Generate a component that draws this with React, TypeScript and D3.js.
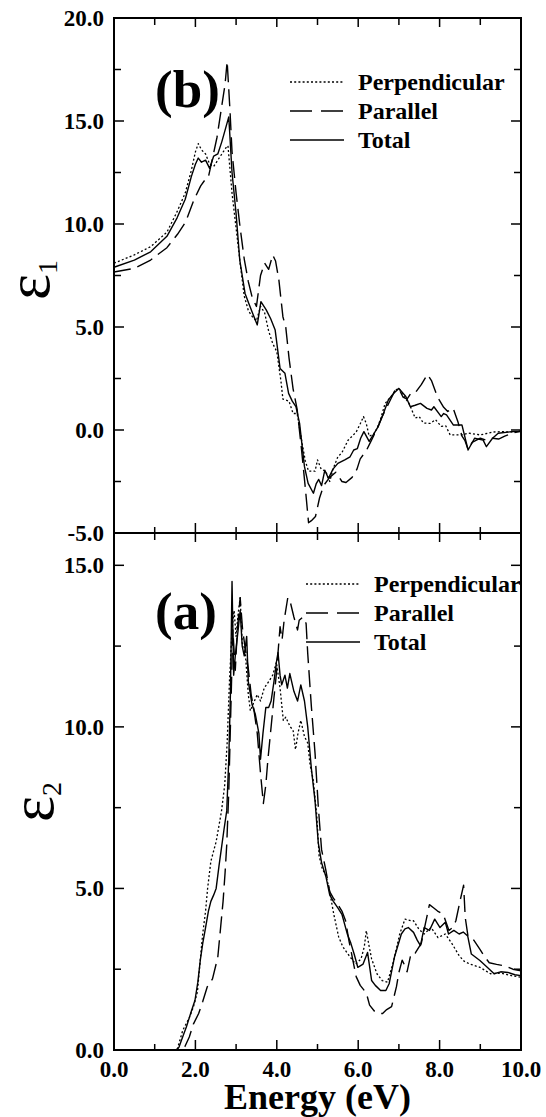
import { useEffect } from "react";
import * as d3 from "d3";

type Pt = [number, number];

// epsilon_1 (top panel b)
const e1Perp: Pt[] = [
  [0, 8.1], [0.5, 8.5], [0.9, 8.9], [1.3, 9.6], [1.55, 10.6], [1.75, 11.5], [1.9, 12.6], [2.0, 13.5], [2.07, 13.9],
  [2.15, 13.6], [2.25, 13.4], [2.35, 12.9], [2.45, 12.8], [2.55, 13.1], [2.65, 13.4], [2.75, 13.7], [2.8, 13.8],
  [2.9, 11.5], [3.0, 9.8], [3.1, 8.1], [3.2, 6.5], [3.3, 5.8], [3.4, 5.5], [3.5, 5.3], [3.6, 6.0], [3.7, 5.7],
  [3.8, 4.8], [3.9, 4.2], [4.0, 3.8], [4.1, 2.4], [4.15, 1.5], [4.3, 1.4], [4.4, 0.8], [4.5, 0.8], [4.6, -0.4],
  [4.7, -1.5], [4.78, -2.0], [4.88, -2.0], [4.94, -2.0], [5.0, -1.45], [5.09, -1.9], [5.2, -2.0], [5.3, -2.5],
  [5.38, -1.9], [5.5, -1.3], [5.6, -1.1], [5.75, -0.5], [5.85, -0.3], [5.95, -0.1], [6.05, 0.3], [6.13, 0.65],
  [6.2, 0.3], [6.27, -0.3], [6.38, -0.2], [6.47, 0.1], [6.56, 0.6], [6.66, 1.29], [6.8, 1.6], [6.92, 1.94],
  [7.0, 2.02], [7.1, 1.7], [7.25, 1.29], [7.4, 0.58], [7.5, 0.65], [7.6, 0.34], [7.77, 0.32], [7.9, 0.5],
  [8.04, 0.18], [8.15, 0.2], [8.26, -0.24], [8.55, -0.24], [8.7, -0.15], [9.0, -0.24], [9.3, -0.1], [9.5, -0.08],
  [9.8, -0.1], [10, -0.05],
];
const e1Para: Pt[] = [
  [0, 7.67], [0.5, 7.85], [0.9, 8.25], [1.3, 8.85], [1.56, 9.5], [1.76, 10.1], [1.97, 11.2], [2.13, 11.85],
  [2.22, 12.1], [2.31, 12.2], [2.4, 13.0], [2.53, 14.2], [2.63, 15.5], [2.73, 16.8], [2.78, 17.9], [2.85, 15.5],
  [2.9, 13.5], [3.0, 11.5], [3.1, 9.8], [3.2, 8.3], [3.3, 7.2], [3.4, 6.4], [3.5, 6.0], [3.6, 7.5], [3.7, 8.1],
  [3.8, 7.8], [3.9, 8.5], [3.97, 8.2], [4.05, 7.3], [4.15, 5.5], [4.22, 5.0], [4.3, 3.5], [4.4, 2.0], [4.5, 1.0],
  [4.6, -0.8], [4.7, -2.8], [4.78, -4.5], [4.85, -4.4], [4.95, -4.2], [5.05, -3.3], [5.15, -2.7], [5.3, -2.3],
  [5.45, -2.05], [5.6, -2.5], [5.7, -2.55], [5.85, -2.3], [5.97, -1.9], [6.05, -1.4], [6.2, -1.0], [6.3, -0.6],
  [6.45, 0.0], [6.6, 0.7], [6.75, 1.3], [6.9, 1.9], [7.0, 2.0], [7.1, 1.6], [7.2, 1.5], [7.3, 1.8], [7.4, 1.8],
  [7.55, 2.2], [7.7, 2.7], [7.8, 2.4], [7.95, 1.6], [8.1, 1.1], [8.2, 0.9], [8.33, 1.07], [8.45, 0.4],
  [8.55, -0.3], [8.62, -0.5], [8.7, -0.95], [8.8, -0.6], [9.0, -0.4], [9.15, -0.5], [9.3, -0.4], [9.45, -0.44],
  [9.6, -0.3], [9.8, -0.15], [10, -0.05],
];
const e1Total: Pt[] = [
  [0, 7.9], [0.5, 8.25], [0.9, 8.65], [1.3, 9.4], [1.55, 10.3], [1.75, 11.2], [1.9, 12.3], [2.0, 12.9], [2.07, 13.2],
  [2.15, 13.0], [2.25, 13.1], [2.35, 12.7], [2.45, 13.3], [2.55, 13.4], [2.65, 14.0], [2.75, 14.7], [2.82, 15.2],
  [2.9, 12.5], [3.0, 10.5], [3.09, 8.25], [3.22, 6.63], [3.31, 6.15], [3.42, 5.6], [3.52, 5.1], [3.61, 6.23],
  [3.74, 5.83], [3.85, 5.4], [3.96, 4.85], [4.08, 2.99], [4.2, 2.75], [4.29, 1.78], [4.38, 1.4], [4.47, 1.13],
  [4.56, 0.32], [4.68, -1.78], [4.77, -2.59], [4.9, -3.07], [4.97, -2.6], [5.03, -2.4], [5.1, -2.7], [5.18, -1.95],
  [5.27, -2.35], [5.38, -1.9], [5.5, -1.62], [5.67, -1.45], [5.8, -1.3], [5.89, -0.97], [5.98, -0.9],
  [6.06, -0.4], [6.14, -0.08], [6.27, -0.55], [6.38, -0.2], [6.49, 0.16], [6.62, 0.8], [6.74, 1.46], [6.88, 1.8],
  [7.0, 2.02], [7.17, 1.63], [7.28, 1.13], [7.4, 1.2], [7.53, 1.29], [7.69, 1.05], [7.8, 0.97], [7.86, 1.13],
  [8.04, 0.65], [8.1, 0.8], [8.17, 0.73], [8.34, 0.24], [8.55, 0.24], [8.7, -0.97], [8.86, -0.4], [9.07, -0.49],
  [9.15, -0.81], [9.3, -0.4], [9.44, -0.16], [9.77, -0.08], [10, -0.08],
];

// epsilon_2 (bottom panel a)
const e2Perp: Pt[] = [
  [0, 0], [1.5, 0], [1.56, 0.05], [1.69, 0.61], [1.85, 1.0], [1.95, 1.33], [2.05, 1.8], [2.12, 2.8], [2.18, 3.6],
  [2.25, 4.3], [2.3, 5.0], [2.38, 5.84], [2.51, 6.45], [2.64, 7.38], [2.72, 8.2], [2.78, 9.5], [2.84, 11.5],
  [2.9, 13.0], [2.95, 13.6], [3.0, 12.8], [3.05, 13.5], [3.1, 14.0], [3.15, 12.6], [3.22, 12.4], [3.3, 11.0],
  [3.35, 10.5], [3.45, 10.8], [3.52, 11.0], [3.6, 10.8], [3.69, 11.2], [3.8, 11.4], [3.9, 11.6], [3.99, 12.0],
  [4.08, 11.2], [4.16, 10.2], [4.22, 10.3], [4.33, 10.0], [4.4, 9.9], [4.46, 9.3], [4.52, 9.8], [4.59, 10.2],
  [4.68, 9.7], [4.76, 9.5], [4.82, 8.8], [4.89, 8.4], [4.98, 7.3], [5.04, 6.0], [5.12, 5.6], [5.21, 5.4],
  [5.3, 4.9], [5.4, 4.2], [5.52, 3.5], [5.62, 3.2], [5.73, 3.0], [5.85, 2.8], [5.94, 2.66], [6.07, 2.82],
  [6.15, 3.2], [6.2, 3.69], [6.27, 3.2], [6.33, 2.82], [6.46, 2.36], [6.59, 2.15], [6.72, 2.1], [6.85, 2.66],
  [6.95, 3.2], [7.02, 3.59], [7.15, 4.05], [7.3, 4.0], [7.36, 4.0], [7.49, 3.74], [7.62, 3.59], [7.79, 3.79],
  [7.96, 3.48], [8.14, 3.59], [8.31, 3.28], [8.48, 2.92], [8.6, 2.75], [8.74, 2.66], [8.99, 2.56], [9.25, 2.36],
  [9.51, 2.38], [9.77, 2.3], [10, 2.25],
];
const e2Para: Pt[] = [
  [0, 0], [1.65, 0], [1.74, 0.1], [1.85, 0.4], [1.95, 0.8], [2.08, 1.13], [2.18, 1.5], [2.29, 1.95], [2.42, 2.2],
  [2.55, 2.87], [2.62, 3.8], [2.68, 4.6], [2.73, 5.5], [2.77, 6.35], [2.82, 8.0], [2.87, 10.5], [2.92, 13.0],
  [2.98, 11.75], [3.03, 13.0], [3.1, 14.0], [3.16, 13.0], [3.22, 12.47], [3.3, 11.8], [3.37, 11.0], [3.43, 10.6],
  [3.52, 9.8], [3.6, 8.56], [3.67, 7.63], [3.73, 8.2], [3.78, 8.97], [3.86, 10.0], [3.93, 10.9], [3.99, 11.65],
  [4.08, 13.1], [4.13, 12.7], [4.18, 13.3], [4.27, 14.0], [4.33, 13.87], [4.42, 13.4], [4.51, 13.0], [4.55, 13.3],
  [4.64, 13.4], [4.72, 13.2], [4.76, 12.27], [4.85, 10.62], [4.94, 9.18], [5.02, 7.52], [5.1, 6.2], [5.2, 5.6],
  [5.3, 4.9], [5.39, 4.7], [5.5, 4.5], [5.6, 4.3], [5.69, 4.0], [5.77, 3.4], [5.85, 2.9], [5.95, 2.27],
  [6.05, 2.0], [6.2, 1.76], [6.28, 1.39], [6.4, 1.2], [6.5, 1.13], [6.6, 1.13], [6.7, 1.25], [6.82, 1.34],
  [6.94, 1.96], [7.0, 2.4], [7.08, 2.78], [7.15, 2.6], [7.2, 2.42], [7.3, 3.0], [7.4, 3.0], [7.55, 3.3],
  [7.65, 3.9], [7.75, 4.5], [7.85, 4.4], [7.95, 4.3], [8.09, 4.2], [8.23, 3.7], [8.33, 3.8], [8.4, 4.0],
  [8.5, 4.6], [8.59, 5.1], [8.63, 4.1], [8.7, 3.5], [8.84, 3.4], [9.0, 3.1], [9.1, 2.9], [9.22, 2.7],
  [9.4, 2.65], [9.62, 2.6], [9.8, 2.5], [10, 2.45],
];
const e2Total: Pt[] = [
  [0, 0], [1.55, 0], [1.6, 0.1], [1.7, 0.45], [1.78, 0.72], [1.9, 1.2], [1.99, 1.54], [2.06, 2.1], [2.12, 2.77],
  [2.18, 3.3], [2.25, 3.79], [2.32, 4.3], [2.38, 4.6], [2.45, 4.8], [2.51, 5.0], [2.58, 5.7], [2.64, 6.25],
  [2.7, 6.8], [2.77, 7.4], [2.82, 9.0], [2.86, 11.0], [2.9, 14.5], [2.94, 11.6], [2.98, 12.2], [3.05, 13.0],
  [3.1, 13.6], [3.15, 12.5], [3.2, 12.2], [3.26, 12.8], [3.3, 11.4], [3.39, 10.7], [3.47, 10.4], [3.56, 9.8],
  [3.6, 9.0], [3.66, 9.8], [3.73, 10.6], [3.8, 10.6], [3.86, 10.8], [3.93, 11.4], [3.99, 12.0], [4.03, 12.3],
  [4.08, 11.6], [4.12, 11.3], [4.2, 11.6], [4.26, 11.2], [4.32, 11.65], [4.42, 11.1], [4.51, 10.8], [4.59, 11.3],
  [4.68, 10.8], [4.76, 10.0], [4.85, 8.7], [4.94, 7.7], [5.02, 6.4], [5.1, 5.8], [5.21, 5.35], [5.3, 4.8],
  [5.39, 4.6], [5.5, 4.4], [5.6, 4.2], [5.73, 3.6], [5.82, 3.3], [5.9, 2.97], [5.99, 2.56], [6.12, 2.66],
  [6.23, 3.02], [6.33, 2.15], [6.42, 2.0], [6.55, 1.84], [6.68, 1.84], [6.76, 2.05], [6.89, 2.87], [7.06, 3.59],
  [7.15, 3.75], [7.23, 3.79], [7.36, 3.64], [7.45, 3.4], [7.53, 3.23], [7.62, 3.79], [7.75, 3.7], [7.88, 4.05],
  [8.01, 3.79], [8.14, 3.95], [8.22, 3.59], [8.35, 3.7], [8.48, 3.59], [8.58, 3.65], [8.69, 3.53], [8.78, 2.97],
  [8.99, 2.77], [9.17, 2.56], [9.34, 2.36], [9.5, 2.42], [9.68, 2.4], [9.85, 2.33], [10, 2.3],
];

const xMajor = [0, 2, 4, 6, 8, 10];
const xMinor = [1, 3, 5, 7, 9];
const e1Major = [-5, 0, 5, 10, 15, 20];
const e1Minor = [-2.5, 2.5, 7.5, 12.5, 17.5];
const e2Major = [0, 5, 10, 15];
const e2Minor = [2.5, 7.5, 12.5];
const legendLabels = ["Perpendicular", "Parallel", "Total"];

const W = 546;
const H = 1117;
const left = 114;
const right = 521;
const serif = "'Liberation Serif', 'Times New Roman', serif";

const x = d3.scaleLinear().domain([0, 10]).range([left, right]);
const y1 = d3.scaleLinear().domain([-5, 20]).range([533, 18]);
const y2 = d3.scaleLinear().domain([0, 16]).range([1050, 533]);

const styles = [
  { dash: "2,2.2", width: 1.3 },
  { dash: "17,7", width: 1.4 },
  { dash: "none", width: 1.4 },
];

function Panel({ y, major, minor, series, tag, tagY, legX, legY, sub, labX, labY }: {
  y: d3.ScaleLinear<number, number>; major: number[]; minor: number[]; series: Pt[][];
  tag: string; tagY: number; legX: number; legY: number; sub: string; labX: number; labY: number;
}) {
  const [y0, yTop] = y.range();
  const line = d3.line<Pt>().x(d => x(d[0])).y(d => y(d[1]));
  return (
    <g>
      {series.map((s, i) => (
        <path key={i} d={line(s) || ""} fill="none" stroke="#000" strokeWidth={styles[i].width}
          strokeDasharray={styles[i].dash} strokeLinejoin="round" />
      ))}
      <rect x={left} y={yTop} width={right - left} height={y0 - yTop} fill="none" stroke="#000" strokeWidth={2} />
      {xMajor.map(v => (
        <g key={"xm" + v}>
          <line x1={x(v)} x2={x(v)} y1={y0} y2={y0 - 10} stroke="#000" strokeWidth={1.5} />
          <line x1={x(v)} x2={x(v)} y1={yTop} y2={yTop + 9} stroke="#000" strokeWidth={1.5} />
        </g>
      ))}
      {xMinor.map(v => (
        <g key={"xn" + v}>
          <line x1={x(v)} x2={x(v)} y1={y0} y2={y0 - 6} stroke="#000" strokeWidth={1.5} />
          <line x1={x(v)} x2={x(v)} y1={yTop} y2={yTop + 7} stroke="#000" strokeWidth={1.5} />
        </g>
      ))}
      {major.map(v => (
        <g key={"ym" + v}>
          <line x1={left} x2={left + 10} y1={y(v)} y2={y(v)} stroke="#000" strokeWidth={1.5} />
          <line x1={right} x2={right - 10} y1={y(v)} y2={y(v)} stroke="#000" strokeWidth={1.5} />
          <text x={104} y={y(v)} dy="0.34em" textAnchor="end" fontFamily={serif} fontWeight="bold" fontSize={23}>
            {v.toFixed(1)}
          </text>
        </g>
      ))}
      {minor.map(v => (
        <g key={"yn" + v}>
          <line x1={left} x2={left + 7} y1={y(v)} y2={y(v)} stroke="#000" strokeWidth={1.5} />
          <line x1={right} x2={right - 7} y1={y(v)} y2={y(v)} stroke="#000" strokeWidth={1.5} />
        </g>
      ))}
      <text x={155} y={tagY} fontFamily={serif} fontWeight="bold" fontSize={53}>{tag}</text>
      {legendLabels.map((l, i) => (
        <g key={l}>
          <line x1={legX} x2={legX + 54} y1={legY + i * 29 - 8} y2={legY + i * 29 - 8} stroke="#000"
            strokeWidth={styles[i].width} strokeDasharray={i === 1 ? "22,9" : styles[i].dash} />
          <text x={legX + 68} y={legY + i * 29} fontFamily={serif} fontWeight="bold" fontSize={24}>{l}</text>
        </g>
      ))}
      <text transform={`translate(${labX}, ${labY}) rotate(-90)`} fontFamily={serif} fontSize={62}>
        ε<tspan fontSize={28} dy={8}>{sub}</tspan>
      </text>
    </g>
  );
}

export default function App() {
  useEffect(() => {
    document.body.style.margin = "0";
  }, []);
  return (
    <svg width={W} height={H} viewBox={`0 0 ${W} ${H}`} style={{ display: "block", background: "#fff" }}>
      <rect width={W} height={H} fill="#fff" />
      <Panel y={y1} major={e1Major} minor={e1Minor} series={[e1Perp, e1Para, e1Total]} tag="(b)" tagY={107}
        legX={290} legY={90} sub="1" labX={49} labY={300} />
      <Panel y={y2} major={e2Major} minor={e2Minor} series={[e2Perp, e2Para, e2Total]} tag="(a)" tagY={629}
        legX={306} legY={592} sub="2" labX={53} labY={822} />
      {xMajor.map(v => (
        <text key={v} x={x(v)} y={1077} textAnchor="middle" fontFamily={serif} fontWeight="bold" fontSize={23}>
          {v.toFixed(1)}
        </text>
      ))}
      <text x={(left + right) / 2} y={1109} textAnchor="middle" fontFamily={serif} fontWeight="bold" fontSize={36}>
        Energy (eV)
      </text>
    </svg>
  );
}
